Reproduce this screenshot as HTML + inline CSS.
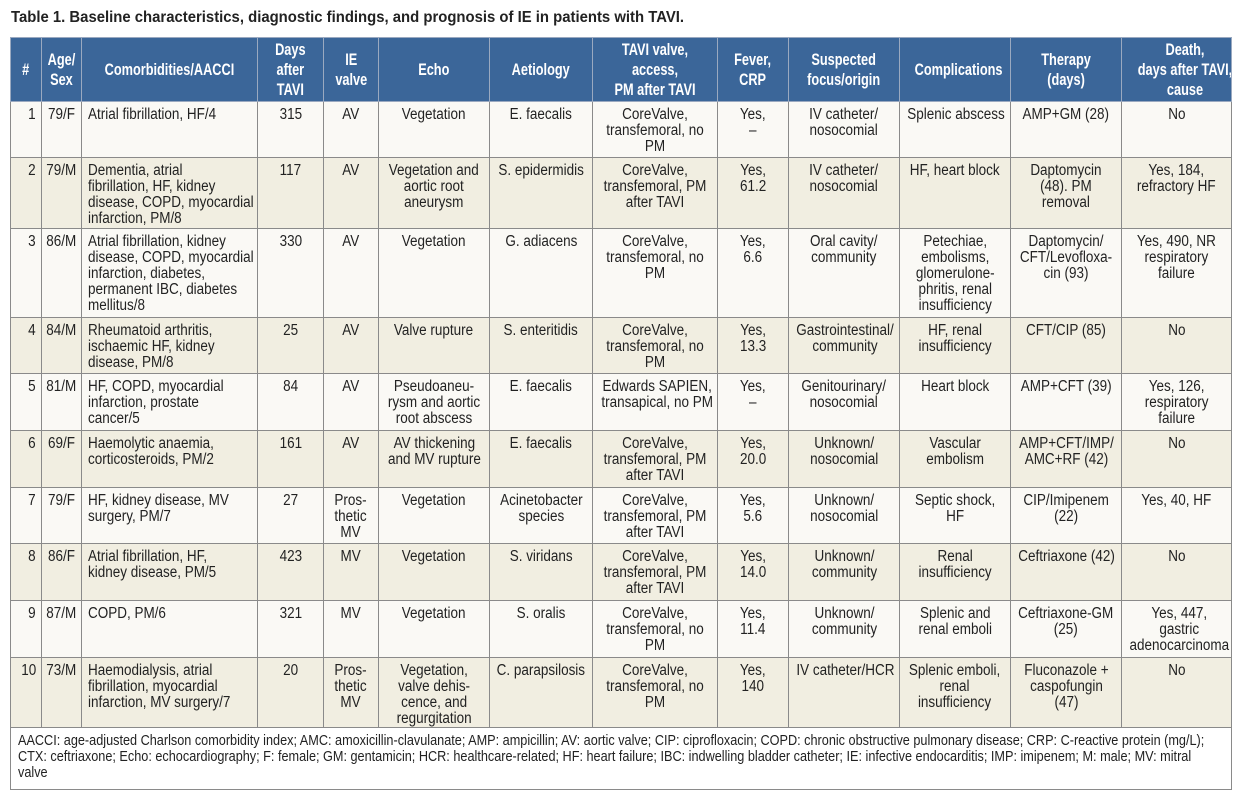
<!DOCTYPE html>
<html><head><meta charset="utf-8"><style>
body{margin:0;background:#fff;width:1250px;height:797px;overflow:hidden;font-family:"Liberation Sans",sans-serif;color:#222}
.title{position:absolute;left:11px;top:9px;font-weight:bold;font-size:16px;white-space:nowrap;transform:scaleX(.93);transform-origin:left}
table{position:absolute;left:10px;top:37px;border-collapse:collapse;table-layout:fixed;width:1221px}
td,th{border:1px solid #8a8a8a;vertical-align:top;font-size:15.5px;line-height:16px;padding:5px 0 0 0;text-align:center;white-space:nowrap;overflow:hidden}
th{background:#3b6699;color:#fff;font-weight:bold;vertical-align:middle;padding:0;font-size:17px;line-height:20px;border-color:#9aa9c0}
span{display:inline-block;transform:scaleX(.87);transform-origin:center}
th span{transform:scaleX(.75)}
tr.o td{background:#faf9f5}
tr.e td{background:#f1eee1}
td.l{text-align:left;padding-left:6px}
td.l span{transform-origin:left}
td.r{text-align:right;padding-right:5px}
td.r span{transform-origin:right}
td.fn{text-align:left;background:#fff;font-size:15px;line-height:16px;padding:5px 0 0 7px;vertical-align:top}
td.fn span{width:max-content;white-space:nowrap;transform:scaleX(.845);transform-origin:0 0}
</style></head><body>
<div class="title">Table 1. Baseline characteristics, diagnostic findings, and prognosis of IE in patients with TAVI.</div>
<table>
<colgroup><col style="width:31px"><col style="width:40px"><col style="width:176px"><col style="width:66px"><col style="width:55px"><col style="width:111px"><col style="width:103px"><col style="width:125px"><col style="width:71px"><col style="width:111px"><col style="width:111px"><col style="width:111px"><col style="width:110px"></colgroup>
<tr style="height:64px"><th><span>#</span></th><th><span>Age/<br>Sex</span></th><th><span>Comorbidities/AACCI</span></th><th><span>Days<br>after<br>TAVI</span></th><th><span>IE<br>valve</span></th><th><span>Echo</span></th><th><span>Aetiology</span></th><th><span>TAVI valve,<br>access,<br>PM after TAVI</span></th><th><span>Fever,<br>CRP</span></th><th><span>Suspected<br>focus/origin</span></th><th><span>Complications</span></th><th><span>Therapy<br>(days)</span></th><th><span>Death,<br>days after TAVI,<br>cause</span></th></tr>
<tr class="o" style="height:56px"><td class="r"><span>1</span></td><td><span>79/F</span></td><td class="l"><span>Atrial fibrillation, HF/4</span></td><td><span>315</span></td><td><span>AV</span></td><td><span>Vegetation</span></td><td><span>E. faecalis</span></td><td><span>CoreValve,<br>transfemoral, no<br>PM</span></td><td><span>Yes,<br>–</span></td><td><span>IV catheter/<br>nosocomial</span></td><td><span>Splenic abscess</span></td><td><span>AMP+GM (28)</span></td><td><span>No</span></td></tr>
<tr class="e" style="height:71px"><td class="r"><span>2</span></td><td><span>79/M</span></td><td class="l"><span>Dementia, atrial<br>fibrillation, HF, kidney<br>disease, COPD, myocardial<br>infarction, PM/8</span></td><td><span>117</span></td><td><span>AV</span></td><td><span>Vegetation and<br>aortic root<br>aneurysm</span></td><td><span>S. epidermidis</span></td><td><span>CoreValve,<br>transfemoral, PM<br>after TAVI</span></td><td><span>Yes,<br>61.2</span></td><td><span>IV catheter/<br>nosocomial</span></td><td><span>HF, heart block</span></td><td><span>Daptomycin<br>(48). PM<br>removal</span></td><td><span>Yes, 184,<br>refractory HF</span></td></tr>
<tr class="o" style="height:89px"><td class="r"><span>3</span></td><td><span>86/M</span></td><td class="l"><span>Atrial fibrillation, kidney<br>disease, COPD, myocardial<br>infarction, diabetes,<br>permanent IBC, diabetes<br>mellitus/8</span></td><td><span>330</span></td><td><span>AV</span></td><td><span>Vegetation</span></td><td><span>G. adiacens</span></td><td><span>CoreValve,<br>transfemoral, no<br>PM</span></td><td><span>Yes,<br>6.6</span></td><td><span>Oral cavity/<br>community</span></td><td><span>Petechiae,<br>embolisms,<br>glomerulone-<br>phritis, renal<br>insufficiency</span></td><td><span>Daptomycin/<br>CFT/Levofloxa-<br>cin (93)</span></td><td><span>Yes, 490, NR<br>respiratory<br>failure</span></td></tr>
<tr class="e" style="height:56px"><td class="r"><span>4</span></td><td><span>84/M</span></td><td class="l"><span>Rheumatoid arthritis,<br>ischaemic HF, kidney<br>disease, PM/8</span></td><td><span>25</span></td><td><span>AV</span></td><td><span>Valve rupture</span></td><td><span>S. enteritidis</span></td><td><span>CoreValve,<br>transfemoral, no<br>PM</span></td><td><span>Yes,<br>13.3</span></td><td><span>Gastrointestinal/<br>community</span></td><td><span>HF, renal<br>insufficiency</span></td><td><span>CFT/CIP (85)</span></td><td><span>No</span></td></tr>
<tr class="o" style="height:57px"><td class="r"><span>5</span></td><td><span>81/M</span></td><td class="l"><span>HF, COPD, myocardial<br>infarction, prostate<br>cancer/5</span></td><td><span>84</span></td><td><span>AV</span></td><td><span>Pseudoaneu-<br>rysm and aortic<br>root abscess</span></td><td><span>E. faecalis</span></td><td><span>Edwards SAPIEN,<br>transapical, no PM</span></td><td><span>Yes,<br>–</span></td><td><span>Genitourinary/<br>nosocomial</span></td><td><span>Heart block</span></td><td><span>AMP+CFT (39)</span></td><td><span>Yes, 126,<br>respiratory<br>failure</span></td></tr>
<tr class="e" style="height:57px"><td class="r"><span>6</span></td><td><span>69/F</span></td><td class="l"><span>Haemolytic anaemia,<br>corticosteroids, PM/2</span></td><td><span>161</span></td><td><span>AV</span></td><td><span>AV thickening<br>and MV rupture</span></td><td><span>E. faecalis</span></td><td><span>CoreValve,<br>transfemoral, PM<br>after TAVI</span></td><td><span>Yes,<br>20.0</span></td><td><span>Unknown/<br>nosocomial</span></td><td><span>Vascular<br>embolism</span></td><td><span>AMP+CFT/IMP/<br>AMC+RF (42)</span></td><td><span>No</span></td></tr>
<tr class="o" style="height:56px"><td class="r"><span>7</span></td><td><span>79/F</span></td><td class="l"><span>HF, kidney disease, MV<br>surgery, PM/7</span></td><td><span>27</span></td><td><span>Pros-<br>thetic<br>MV</span></td><td><span>Vegetation</span></td><td><span>Acinetobacter<br>species</span></td><td><span>CoreValve,<br>transfemoral, PM<br>after TAVI</span></td><td><span>Yes,<br>5.6</span></td><td><span>Unknown/<br>nosocomial</span></td><td><span>Septic shock,<br>HF</span></td><td><span>CIP/Imipenem<br>(22)</span></td><td><span>Yes, 40, HF</span></td></tr>
<tr class="e" style="height:57px"><td class="r"><span>8</span></td><td><span>86/F</span></td><td class="l"><span>Atrial fibrillation, HF,<br>kidney disease, PM/5</span></td><td><span>423</span></td><td><span>MV</span></td><td><span>Vegetation</span></td><td><span>S. viridans</span></td><td><span>CoreValve,<br>transfemoral, PM<br>after TAVI</span></td><td><span>Yes,<br>14.0</span></td><td><span>Unknown/<br>community</span></td><td><span>Renal<br>insufficiency</span></td><td><span>Ceftriaxone (42)</span></td><td><span>No</span></td></tr>
<tr class="o" style="height:57px"><td class="r"><span>9</span></td><td><span>87/M</span></td><td class="l"><span>COPD, PM/6</span></td><td><span>321</span></td><td><span>MV</span></td><td><span>Vegetation</span></td><td><span>S. oralis</span></td><td><span>CoreValve,<br>transfemoral, no<br>PM</span></td><td><span>Yes,<br>11.4</span></td><td><span>Unknown/<br>community</span></td><td><span>Splenic and<br>renal emboli</span></td><td><span>Ceftriaxone-GM<br>(25)</span></td><td><span>Yes, 447,<br>gastric<br>adenocarcinoma</span></td></tr>
<tr class="e" style="height:64px"><td class="r"><span>10</span></td><td><span>73/M</span></td><td class="l"><span>Haemodialysis, atrial<br>fibrillation, myocardial<br>infarction, MV surgery/7</span></td><td><span>20</span></td><td><span>Pros-<br>thetic<br>MV</span></td><td><span>Vegetation,<br>valve dehis-<br>cence, and<br>regurgitation</span></td><td><span>C. parapsilosis</span></td><td><span>CoreValve,<br>transfemoral, no<br>PM</span></td><td><span>Yes,<br>140</span></td><td><span>IV catheter/HCR</span></td><td><span>Splenic emboli,<br>renal<br>insufficiency</span></td><td><span>Fluconazole +<br>caspofungin<br>(47)</span></td><td><span>No</span></td></tr>
<tr style="height:62px"><td class="fn" colspan="13"><span>AACCI: age-adjusted Charlson comorbidity index; AMC: amoxicillin-clavulanate; AMP: ampicillin; AV: aortic valve; CIP: ciprofloxacin; COPD: chronic obstructive pulmonary disease; CRP: C-reactive protein (mg/L);<br>CTX: ceftriaxone; Echo: echocardiography; F: female; GM: gentamicin; HCR: healthcare-related; HF: heart failure; IBC: indwelling bladder catheter; IE: infective endocarditis; IMP: imipenem; M: male; MV: mitral<br>valve</span></td></tr>
</table>
</body></html>
